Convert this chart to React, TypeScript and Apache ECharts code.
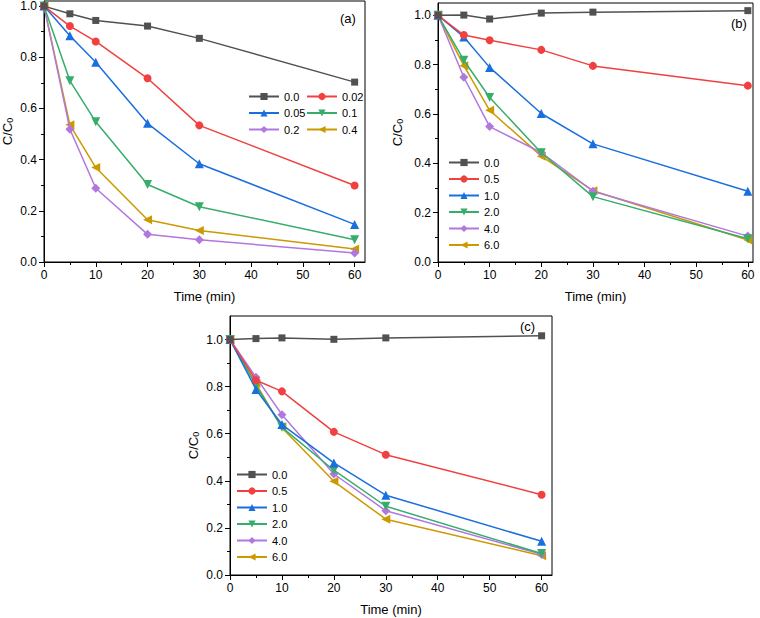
import React, { useEffect, useRef } from 'react';
import * as echarts from 'echarts';

// ---- data ----
const times = [0, 5, 10, 20, 30, 60];
const xMajorTicks = [0, 10, 20, 30, 40, 50, 60];
const xMinorTicks = [5, 15, 25, 35, 45, 55];
const yMajorTicks = [0, 0.2, 0.4, 0.6, 0.8, 1.0];
const yMinorTicks = [0.1, 0.3, 0.5, 0.7, 0.9];

const namesA = ['0.0', '0.02', '0.05', '0.1', '0.2', '0.4'];
const a_0_0 = [1.0, 0.970, 0.944, 0.922, 0.874, 0.703];
const a_0_02 = [1.0, 0.922, 0.862, 0.718, 0.534, 0.299];
const a_0_05 = [1.0, 0.884, 0.781, 0.542, 0.384, 0.147];
const a_0_1 = [1.0, 0.708, 0.548, 0.303, 0.216, 0.087];
const a_0_2 = [1.0, 0.519, 0.288, 0.108, 0.087, 0.035];
const a_0_4 = [1.0, 0.536, 0.369, 0.165, 0.123, 0.051];

const namesB = ['0.0', '0.5', '1.0', '2.0', '4.0', '6.0'];
const b_0_0 = [1.0, 1.001, 0.985, 1.009, 1.013, 1.019];
const b_0_5 = [1.0, 0.920, 0.899, 0.860, 0.795, 0.715];
const b_1_0 = [1.0, 0.912, 0.789, 0.602, 0.479, 0.287];
const b_2_0 = [1.0, 0.818, 0.667, 0.443, 0.265, 0.094];
const b_4_0 = [1.0, 0.749, 0.549, 0.444, 0.287, 0.105];
const b_6_0 = [1.0, 0.796, 0.615, 0.429, 0.289, 0.089];

const namesC = ['0.0', '0.5', '1.0', '2.0', '4.0', '6.0'];
const c_0_0 = [1.0, 1.004, 1.007, 1.001, 1.007, 1.016];
const c_0_5 = [1.0, 0.827, 0.780, 0.608, 0.511, 0.341];
const c_1_0 = [1.0, 0.788, 0.639, 0.476, 0.339, 0.143];
const c_2_0 = [1.0, 0.805, 0.627, 0.445, 0.292, 0.091];
const c_4_0 = [1.0, 0.840, 0.681, 0.429, 0.273, 0.088];
const c_6_0 = [1.0, 0.813, 0.625, 0.398, 0.237, 0.082];

const panelLabels = ['(a)', '(b)', '(c)'];

// ---- styles ----
const FONT = 'Liberation Sans, Arial, sans-serif';
const colors = ['#515151', '#F14040', '#1A6FDF', '#37AD6B', '#B177DE', '#CC9900'];
const symbolDefs: Array<[string, number, number]> = [
  ['rect', 0, 7],
  ['circle', 0, 8],
  ['triangle', 0, 9],
  ['triangle', 180, 9],
  ['diamond', 0, 9],
  ['triangle', 90, 9],
];

const panels = [
  { names: namesA, values: [a_0_0, a_0_02, a_0_05, a_0_1, a_0_2, a_0_4], grid: { left: 44, top: 1, width: 321, height: 261 }, xMax: 62, yMax: 1.02, nameGap: 30, label: { left: 340, top: 12 } },
  { names: namesB, values: [b_0_0, b_0_5, b_1_0, b_2_0, b_4_0, b_6_0], grid: { left: 438, top: 3, width: 315, height: 259 }, xMax: 61, yMax: 1.05, nameGap: 34, label: { left: 731, top: 17 } },
  { names: namesC, values: [c_0_0, c_0_5, c_1_0, c_2_0, c_4_0, c_6_0], grid: { left: 230, top: 316, width: 322, height: 259 }, xMax: 62, yMax: 1.1, nameGap: 30, label: { left: 520, top: 320 } },
];

function buildOption() {
  const grid: any[] = [];
  const xAxis: any[] = [];
  const yAxis: any[] = [];
  const series: any[] = [];
  const title: any[] = [];

  panels.forEach((p, pi) => {
    grid.push({ ...p.grid, show: true, borderColor: '#000', borderWidth: 1, backgroundColor: 'transparent', containLabel: false });
    xAxis.push({
      type: 'value', gridIndex: pi, min: 0, max: p.xMax, position: 'bottom',
      axisLine: { show: true, lineStyle: { color: '#000', width: 1 } },
      axisTick: { show: true, length: 5, customValues: xMajorTicks, lineStyle: { color: '#000' } },
      axisLabel: { customValues: xMajorTicks, fontSize: 12, color: '#000', fontFamily: FONT, margin: 7 },
      splitLine: { show: false },
      name: 'Time (min)', nameLocation: 'middle', nameGap: 28,
      nameTextStyle: { fontSize: 13, color: '#000', fontFamily: FONT },
    });
    xAxis.push({
      type: 'value', gridIndex: pi, min: 0, max: p.xMax, position: 'bottom',
      axisLine: { show: false },
      axisTick: { show: true, length: 3, customValues: xMinorTicks, lineStyle: { color: '#000' } },
      axisLabel: { show: false },
      splitLine: { show: false },
    });
    yAxis.push({
      type: 'value', gridIndex: pi, min: 0, max: p.yMax, position: 'left',
      axisLine: { show: true, lineStyle: { color: '#000', width: 1 } },
      axisTick: { show: true, length: 5, customValues: yMajorTicks, lineStyle: { color: '#000' } },
      axisLabel: { customValues: yMajorTicks, fontSize: 12, color: '#000', fontFamily: FONT, margin: 7, formatter: (v: number) => v.toFixed(1) },
      splitLine: { show: false },
      name: '{a|C/C}{b|0}', nameLocation: 'middle', nameGap: p.nameGap, nameRotate: 90,
      nameTextStyle: {
        color: '#000', fontFamily: FONT, fontSize: 13,
        rich: {
          a: { fontSize: 13, fontFamily: FONT, color: '#000', verticalAlign: 'bottom', lineHeight: 16 },
          b: { fontSize: 9, fontFamily: FONT, color: '#000', verticalAlign: 'bottom', lineHeight: 12 },
        },
      },
    });
    yAxis.push({
      type: 'value', gridIndex: pi, min: 0, max: p.yMax, position: 'left',
      axisLine: { show: false },
      axisTick: { show: true, length: 3, customValues: yMinorTicks, lineStyle: { color: '#000' } },
      axisLabel: { show: false },
      splitLine: { show: false },
    });

    p.names.forEach((name, si) => {
      const [sym, rot, size] = symbolDefs[si];
      series.push({
        type: 'line', name, xAxisIndex: pi * 2, yAxisIndex: pi * 2,
        data: times.map((t, i) => [t, p.values[si][i]]),
        symbol: sym, symbolRotate: rot, symbolSize: size, showSymbol: true,
        lineStyle: { color: colors[si], width: 1.5 },
        itemStyle: { color: colors[si] },
        z: 10 - si,
      });
    });

    title.push({
      text: panelLabels[pi], left: p.label.left, top: p.label.top, padding: 0,
      textStyle: { fontSize: 13, fontWeight: 'normal', color: '#000', fontFamily: FONT },
    });
  });

  const legendBase = {
    orient: 'vertical', padding: 0, itemWidth: 30, itemHeight: 9, itemGap: 5.5,
    textStyle: { fontSize: 11, color: '#000', fontFamily: FONT },
    selectedMode: false,
  };
  const legend = [
    { ...legendBase, left: 248, top: 91, data: [namesA[0], namesA[2], namesA[4]] },
    { ...legendBase, left: 306, top: 91, data: [namesA[1], namesA[3], namesA[5]] },
    { ...legendBase, left: 448, top: 157, data: namesB },
    { ...legendBase, left: 236, top: 469, data: namesC },
  ];

  return { animation: false, backgroundColor: '#fff', grid, xAxis, yAxis, series, title, legend };
}

export default function App() {
  const ref = useRef<HTMLDivElement>(null);
  useEffect(() => {
    if (!ref.current) return;
    const chart = echarts.init(ref.current, undefined, { renderer: 'svg' });
    chart.setOption(buildOption() as any);
    return () => chart.dispose();
  }, []);
  return <div ref={ref} style={{ position: 'fixed', left: 0, top: 0, width: 760, height: 618 }} />;
}
